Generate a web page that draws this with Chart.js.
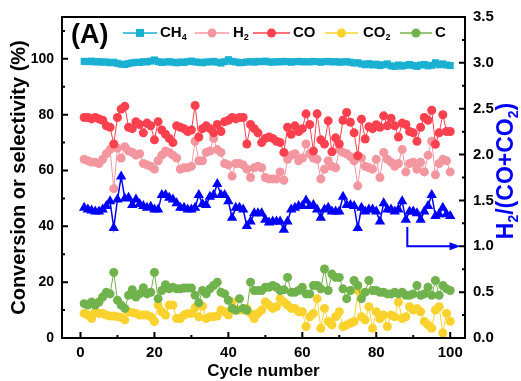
<!DOCTYPE html>
<html><head><meta charset="utf-8">
<script src="https://cdn.jsdelivr.net/npm/chart.js@4.4.0/dist/chart.umd.min.js"></script>
<style>html,body{margin:0;padding:0;background:#fff;}#wrap{width:521px;height:381px;}</style>
</head><body><div id="wrap"><canvas id="c" width="521" height="381"></canvas></div>
<script>
const cycles = Array.from({length:100},(_,i)=>i+1);
const ch4 = [99.1,99.0,99.2,98.9,99.0,98.8,98.9,98.6,98.8,98.4,
98.1,98.0,98.3,98.6,98.8,98.7,99.0,98.9,99.2,99.6,
99.0,98.7,98.9,99.0,98.8,98.6,98.9,98.7,99.0,99.2,
98.9,98.8,98.6,98.9,98.9,99.1,98.8,98.5,99.0,99.7,
99.1,98.9,98.6,98.7,98.9,99.0,98.8,99.1,99.0,99.2,
98.9,98.8,99.0,98.9,99.1,99.0,98.8,99.0,99.1,98.9,
99.0,98.9,99.1,99.0,98.8,99.0,99.1,98.9,99.0,98.8,
98.9,99.0,98.8,98.5,98.6,98.2,97.9,98.3,97.8,98.1,
97.6,97.9,98.2,97.5,97.3,97.8,97.4,97.7,98.0,97.6,
97.3,97.8,98.0,97.5,97.7,98.6,97.9,98.2,97.8,97.6];
const h2 = [64,63.5,63,63,62.5,64,66,67.5,53.5,68,
64.5,68.5,67,66.5,65.5,66,62.5,62,61.5,60.5,
63.5,65.5,67,66.5,65.5,64.5,60.5,61,61,61.5,
70.5,63.5,63.5,66.5,67,71.5,67.5,66.5,62.5,62,
58,62.5,62.5,62,60.5,57.5,61,61.5,61,57.5,
57,57,57,59.5,56.5,64,65.5,66,63.5,64.5,
69.5,66,64.5,64,57,60.5,63.5,61.5,61,67.5,
66.5,66,65,63.5,54.5,64.5,61.5,61,60.5,64,
57.5,66.5,64,63,61.5,62.5,67.5,59.5,62.5,63,
60.5,63,59.5,65.5,70.5,58.5,62.5,64,63.5,59.5];
const co = [79,79,78.5,79,78.5,78,76,75.5,69.5,79,
82,83,75.5,75,77.5,76.5,73.5,77,76,71,
77.5,74.5,73,71.5,70,76,75.5,75,74,74.5,
83.3,72,75,76,75,73.5,76.5,74,77.5,78,
79,78.5,79,79,69.5,76.5,75,73.5,70,71.5,
72,71.5,70.5,70,66.5,75.5,73,76,74,75,
80.3,76.5,67,80.3,71,69.5,77.8,66.7,71.7,69.5,
78,80.8,77.3,73.5,65.3,78.4,71.3,75.7,75,76.4,
75.5,79.6,76,78.7,76,72,77,76.5,74,73.5,
70.5,75.5,79,78,81.6,69.4,73.5,80,74,74];
const co2 = [8.8,8.2,7.0,9.4,8.8,8.8,8.2,7.9,7.9,7.6,
7.4,6.5,9.4,9.1,8.8,8.2,8.2,8.2,7.6,5.9,
11.8,9.4,8.2,11.8,11.8,7.0,7.0,8.2,8.8,8.8,
10.9,7.6,11.4,7.0,7.6,7.6,7.9,10,9.4,8.2,
12.9,10,10,10,10.6,8.8,7.0,8.8,10,12.9,
11.8,10.6,11.2,14.1,12.9,11.8,10.6,10.6,9.4,9.4,
4.1,7.6,8.8,14.1,3.5,10.6,5.9,4.7,7.6,9.4,
4.1,4.7,5.3,5.9,17,7.6,6.5,11.2,3.5,9.4,
7.0,8.2,4.1,8.2,7.6,12.9,7.0,7.6,11.2,10,
10.6,9.4,5.9,4.7,3.5,10,11.2,1.8,8.8,6];
const carbon = [12.3,11.8,12.9,11.8,12.9,14.7,16.4,15.8,23.5,13.5,
11.8,10.6,15.3,17.3,14.7,15.8,18,15.8,16.4,23.5,
14.1,17,19.1,17.6,18.2,17.6,17.6,17.9,17.9,17.9,
15.3,12.6,17,15.8,17.6,18.8,20,16.4,15.8,13.5,
10.6,9.9,14.1,10.6,9.9,20,17,17,17,18.2,
18.2,18.8,18.2,17,17.3,21.7,16.4,16.4,17,18.2,
15.8,15.8,18.8,18.8,17.6,24.7,17,22.9,21.7,21.7,
17.6,14.1,17,20.6,18.8,14.1,16.4,20.6,17,17,
16.4,16.4,15.8,15.8,16.4,15.8,16.4,15.3,15.3,15.8,
18.8,15.3,15.8,18.2,15.3,20.6,15.3,18.8,17.6,17];
const ratio = [1.42,1.40,1.39,1.38,1.38,1.40,1.44,1.49,1.20,1.51,
1.76,1.52,1.53,1.45,1.51,1.46,1.44,1.42,1.43,1.40,
1.40,1.56,1.56,1.53,1.51,1.47,1.42,1.42,1.40,1.40,
1.42,1.56,1.46,1.45,1.54,1.56,1.68,1.56,1.56,1.49,
1.31,1.42,1.42,1.40,1.22,1.27,1.36,1.36,1.36,1.29,
1.26,1.27,1.27,1.27,1.18,1.27,1.40,1.42,1.44,1.44,
1.50,1.44,1.45,1.40,1.31,1.40,1.42,1.38,1.38,1.38,
1.54,1.45,1.45,1.44,1.20,1.42,1.38,1.40,1.40,1.38,
1.27,1.47,1.40,1.40,1.38,1.40,1.49,1.29,1.38,1.38,
1.36,1.29,1.38,1.44,1.56,1.33,1.35,1.42,1.35,1.33];
const xTicks = [0,20,40,60,80,100];
const yTicks = [0,20,40,60,80,100];
const y2Ticks = [0,0.5,1.0,1.5,2.0,2.5,3.0,3.5];

const C_CH4='rgb(26,176,210)', C_H2='rgb(244,150,160)', C_CO='rgb(252,64,78)',
      C_CO2='rgb(250,210,45)', C_C='rgb(112,178,76)', C_BLUE='rgb(0,0,250)';
const FONT='"Liberation Sans", Arial, sans-serif';

function pts(arr){return cycles.map((c,i)=>({x:c,y:arr[i]}));}
function ds(label,arr,color,style,r,axis,order,bw){
  return {label,data:pts(arr),borderColor:color,backgroundColor:color,pointBackgroundColor:color,
    pointBorderColor:color,pointStyle:style,pointRadius:r,pointBorderWidth:0,borderWidth:bw||1,
    yAxisID:axis,order,tension:0};
}

function richWidth(ctx,parts,size){
  let w=0;
  for(const p of parts){ctx.font='bold '+(p.sub?Math.round(size*0.62):size)+'px '+FONT; w+=ctx.measureText(p.t).width;}
  return w;
}
function drawRich(ctx,parts,x,y,size,color){
  ctx.fillStyle=color; ctx.textBaseline='middle'; ctx.textAlign='left';
  let cx=x;
  for(const p of parts){
    const s=p.sub?Math.round(size*0.62):size;
    ctx.font='bold '+s+'px '+FONT;
    ctx.fillText(p.t,cx,p.sub?y+size*0.3:y);
    cx+=ctx.measureText(p.t).width;
  }
}

const deco = {
  id:'deco',
  afterDraw(chart){
    const ctx=chart.ctx, a=chart.chartArea, sx=chart.scales.x, sy=chart.scales.y, sy2=chart.scales.y2;
    ctx.save();
    ctx.strokeStyle='#000'; ctx.lineWidth=2;
    ctx.strokeRect(a.left,a.top,a.right-a.left,a.bottom-a.top);
    ctx.lineWidth=2; ctx.beginPath();
    for(let v=0;v<=100;v+=10){const len=(v%20===0)?6:3;const px=sx.getPixelForValue(v);ctx.moveTo(px,a.bottom);ctx.lineTo(px,a.bottom-len);}
    for(let v=0;v<=110;v+=10){const len=(v%20===0)?6:3;const py=sy.getPixelForValue(v);ctx.moveTo(a.left,py);ctx.lineTo(a.left+len,py);}
    for(let k=0;k<=14;k++){const v=k*0.25;const len=(k%2===0)?6:3;const py=sy2.getPixelForValue(v);ctx.moveTo(a.right,py);ctx.lineTo(a.right-len,py);}
    ctx.stroke();
    ctx.save(); ctx.translate(19,(a.top+a.bottom)/2); ctx.rotate(-Math.PI/2);
    ctx.fillStyle='#000'; ctx.font='bold 20px '+FONT; ctx.textAlign='center'; ctx.textBaseline='middle';
    ctx.fillText('Conversion or selectivity (%)',0,0); ctx.restore();
    ctx.fillStyle='#000'; ctx.font='bold 17px '+FONT; ctx.textAlign='center'; ctx.textBaseline='middle';
    ctx.fillText('Cycle number',(a.left+a.right)/2,371);
    const rparts=[{t:'H'},{t:'2',sub:true},{t:'/(CO+CO'},{t:'2',sub:true},{t:')'}];
    ctx.save(); ctx.translate(507,171); ctx.rotate(-Math.PI/2);
    const rw=richWidth(ctx,rparts,23); drawRich(ctx,rparts,-rw/2,0,23,C_BLUE); ctx.restore();
    ctx.fillStyle='#000'; ctx.font='bold 27px '+FONT; ctx.textAlign='left'; ctx.textBaseline='middle';
    ctx.fillText('(A)',71,36);
    const ly=33;
    const items=[
      {x0:123,x1:157,color:C_CH4,style:'rect',parts:[{t:'CH'},{t:'4',sub:true}],tx:160},
      {x0:195,x1:229,color:C_H2,style:'circle',parts:[{t:'H'},{t:'2',sub:true}],tx:233},
      {x0:253,x1:290,color:C_CO,style:'circle',parts:[{t:'CO'}],tx:293},
      {x0:325,x1:358,color:C_CO2,style:'circle',parts:[{t:'CO'},{t:'2',sub:true}],tx:363},
      {x0:400,x1:432,color:C_C,style:'circle',parts:[{t:'C'}],tx:435}
    ];
    for(const it of items){
      ctx.strokeStyle=it.color; ctx.lineWidth=1.5; ctx.beginPath(); ctx.moveTo(it.x0,ly); ctx.lineTo(it.x1,ly); ctx.stroke();
      const mx=(it.x0+it.x1)/2; ctx.fillStyle=it.color; ctx.beginPath();
      if(it.style==='rect'){ctx.rect(mx-4,ly-4,8,8);} else {ctx.arc(mx,ly,4.5,0,Math.PI*2);}
      ctx.fill();
      drawRich(ctx,it.parts,it.tx,ly,15,'#000');
    }
    const ax=sx.getPixelForValue(88.4), ayTop=sy2.getPixelForValue(1.21), ay=sy2.getPixelForValue(1.0), tip=sx.getPixelForValue(102.8);
    ctx.strokeStyle=C_BLUE; ctx.lineWidth=2; ctx.beginPath();
    ctx.moveTo(ax,ayTop); ctx.lineTo(ax,ay); ctx.lineTo(tip-8,ay); ctx.stroke();
    ctx.fillStyle=C_BLUE; ctx.beginPath(); ctx.moveTo(tip,ay); ctx.lineTo(tip-11,ay-4); ctx.lineTo(tip-11,ay+4); ctx.closePath(); ctx.fill();
    ctx.restore();
  }
};

const tickFont=(s)=>({family:FONT,weight:'bold',size:s});
new Chart(document.getElementById('c'),{
  type:'line',
  data:{datasets:[
    ds('H2/(CO+CO2)',ratio,C_BLUE,'triangle',6,'y2',0,1.5),
    ds('CH4',ch4,C_CH4,'rect',5,'y',1),
    ds('CO',co,C_CO,'circle',4.5,'y',2),
    ds('H2',h2,C_H2,'circle',4.5,'y',3),
    ds('C',carbon,C_C,'circle',4.5,'y',4),
    ds('CO2',co2,C_CO2,'circle',4.5,'y',5)
  ]},
  options:{
    responsive:false, animation:false, devicePixelRatio:1,
    layout:{padding:{top:13,left:0,right:0,bottom:0}},
    plugins:{legend:{display:false},tooltip:{enabled:false}},
    scales:{
      x:{type:'linear',min:-5,max:104,
        afterBuildTicks:s=>{s.ticks=xTicks.map(v=>({value:v}));},
        afterFit:s=>{s.height=43;},
        ticks:{font:tickFont(15),color:'#000',padding:6,maxRotation:0,autoSkip:false},
        grid:{display:false,drawTicks:false},border:{display:false}},
      y:{position:'left',min:0,max:115,
        afterBuildTicks:s=>{s.ticks=yTicks.map(v=>({value:v}));},
        afterFit:s=>{s.width=62;},
        ticks:{font:tickFont(14),color:'#000',padding:8,autoSkip:false},
        grid:{display:false,drawTicks:false},border:{display:false}},
      y2:{position:'right',min:0,max:3.5,
        afterBuildTicks:s=>{s.ticks=y2Ticks.map(v=>({value:v}));},
        afterFit:s=>{s.width=56;},
        ticks:{font:tickFont(15),color:'#000',padding:8,autoSkip:false,callback:v=>Number(v).toFixed(1)},
        grid:{display:false,drawTicks:false},border:{display:false}}
    }
  },
  plugins:[deco]
});
</script></body></html>
